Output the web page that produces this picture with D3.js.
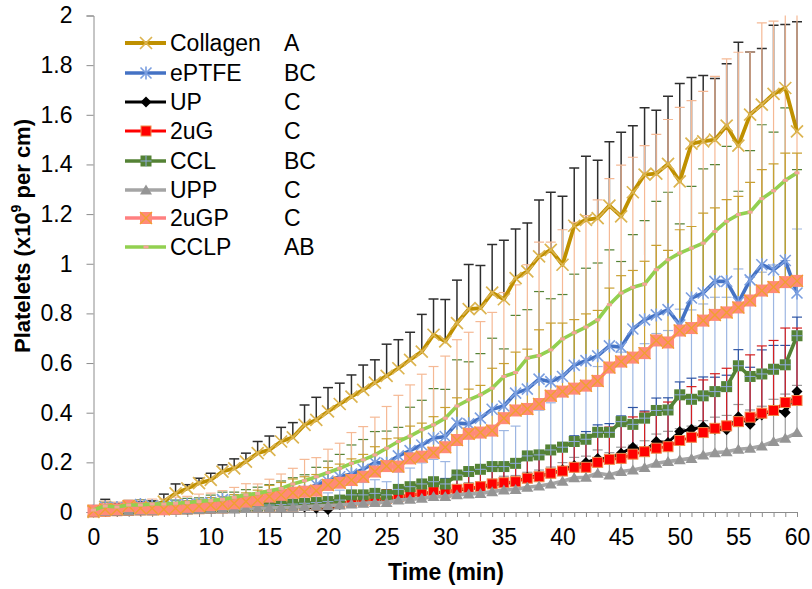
<!DOCTYPE html>
<html>
<head>
<meta charset="utf-8">
<script src="https://cdn.jsdelivr.net/npm/d3@7/dist/d3.min.js"></script>
<style>
  body { margin: 0; background: #fff; }
  svg text { font-family: "Liberation Sans", Arial, sans-serif; fill: #000; }
</style>
</head>
<body>
<svg id="chart" width="812" height="589"></svg>
<script>
// time points (min)
const minutes = d3.range(0, 61);

// mean platelet deposition (x10^9 per cm)
const collagen = [0.0,0.021,0.015,0.021,0.021,0.024,0.042,0.075,0.095,0.116,
  0.129,0.163,0.176,0.203,0.237,0.25,0.284,0.301,0.351,0.371,
  0.405,0.435,0.465,0.492,0.521,0.548,0.579,0.613,0.646,0.714,
  0.687,0.761,0.817,0.821,0.884,0.857,0.942,0.969,1.03,1.056,
  0.996,1.153,1.177,1.184,1.234,1.191,1.288,1.359,1.363,1.402,
  1.332,1.484,1.493,1.5,1.556,1.476,1.601,1.641,1.684,1.708,1.533];
const eptfe = [0.005,0.02,0.018,0.022,0.03,0.025,0.02,0.028,0.03,0.032,
  0.038,0.05,0.045,0.05,0.055,0.06,0.07,0.078,0.085,0.11,
  0.125,0.142,0.153,0.172,0.199,0.196,0.226,0.247,0.27,0.297,
  0.304,0.358,0.355,0.378,0.414,0.427,0.479,0.495,0.535,0.525,
  0.546,0.591,0.61,0.629,0.669,0.664,0.737,0.774,0.794,0.815,
  0.754,0.862,0.882,0.929,0.929,0.844,0.935,0.996,0.976,1.013,0.882];
const up = [0.0,0.005,0.004,0.008,0.007,0.01,0.011,0.012,0.01,0.015,
  0.014,0.018,0.017,0.02,0.021,0.022,0.02,0.025,0.02,0.015,
  0.01,0.03,0.04,0.045,0.05,0.05,0.06,0.065,0.075,0.078,
  0.08,0.088,0.092,0.1,0.108,0.115,0.12,0.14,0.146,0.155,
  0.17,0.187,0.199,0.216,0.216,0.237,0.261,0.247,0.284,0.28,
  0.324,0.333,0.344,0.333,0.331,0.384,0.353,0.391,0.411,0.401,0.485];
const uG2 = [0.0,0.003,0.005,0.006,0.008,0.008,0.01,0.011,0.012,0.013,
  0.015,0.016,0.018,0.019,0.02,0.021,0.022,0.024,0.026,0.028,
  0.03,0.035,0.042,0.046,0.051,0.055,0.062,0.069,0.073,0.082,
  0.078,0.091,0.095,0.102,0.113,0.118,0.122,0.136,0.142,0.156,
  0.165,0.18,0.18,0.2,0.212,0.216,0.233,0.243,0.257,0.263,
  0.288,0.301,0.32,0.337,0.347,0.364,0.382,0.398,0.409,0.441,0.449];
const ccl = [0.003,0.01,0.008,0.012,0.012,0.015,0.014,0.016,0.018,0.017,
  0.02,0.021,0.022,0.023,0.025,0.028,0.03,0.032,0.035,0.038,
  0.042,0.048,0.069,0.069,0.075,0.069,0.091,0.102,0.113,0.122,
  0.113,0.149,0.163,0.172,0.183,0.183,0.196,0.226,0.23,0.25,
  0.261,0.284,0.293,0.321,0.321,0.364,0.353,0.378,0.409,0.411,
  0.472,0.454,0.468,0.485,0.505,0.589,0.546,0.556,0.575,0.593,0.71];
const upp = [0.0,0.002,0.003,0.004,0.005,0.005,0.007,0.008,0.008,0.01,
  0.011,0.012,0.012,0.014,0.015,0.016,0.018,0.019,0.022,0.024,
  0.026,0.028,0.032,0.035,0.038,0.038,0.048,0.051,0.055,0.062,
  0.062,0.069,0.073,0.075,0.082,0.089,0.091,0.1,0.105,0.113,
  0.124,0.138,0.14,0.156,0.149,0.163,0.169,0.179,0.196,0.203,
  0.21,0.216,0.23,0.239,0.243,0.253,0.257,0.266,0.284,0.297,0.32];
const uGP2 = [0.005,0.011,0.011,0.024,0.015,0.015,0.011,0.015,0.021,0.024,
  0.028,0.032,0.035,0.042,0.048,0.062,0.069,0.078,0.082,0.086,
  0.109,0.118,0.129,0.142,0.163,0.185,0.183,0.216,0.223,0.239,
  0.261,0.29,0.315,0.32,0.328,0.378,0.409,0.415,0.435,0.468,
  0.485,0.497,0.509,0.528,0.582,0.606,0.622,0.64,0.691,0.683,
  0.731,0.741,0.771,0.794,0.804,0.824,0.852,0.892,0.906,0.926,0.931];
const cclp = [0.008,0.024,0.02,0.028,0.028,0.032,0.032,0.035,0.038,0.042,
  0.046,0.051,0.059,0.069,0.075,0.086,0.095,0.113,0.126,0.142,
  0.159,0.176,0.196,0.21,0.23,0.257,0.284,0.306,0.331,0.351,
  0.378,0.427,0.452,0.472,0.499,0.546,0.562,0.62,0.63,0.653,
  0.697,0.722,0.745,0.774,0.835,0.882,0.905,0.918,0.976,1.016,
  1.043,1.063,1.083,1.13,1.171,1.198,1.208,1.262,1.294,1.336,1.366];

// upper error bars (SD)
const collagenErr = [0.02,0.03,0.02,0.025,0.02,0.02,0.03,0.038,0.015,0.02,
  0.027,0.027,0.038,0.034,0.047,0.056,0.057,0.059,0.08,0.091,
  0.096,0.084,0.087,0.1,0.092,0.128,0.115,0.111,0.15,0.144,
  0.169,0.173,0.18,0.172,0.194,0.238,0.198,0.195,0.227,0.232,
  0.276,0.233,0.256,0.233,0.257,0.339,0.268,0.269,0.255,0.273,
  0.394,0.266,0.265,0.246,0.25,0.416,0.252,0.226,0.277,0.256,0.442];
const eptfeErr = [0.01,0.02,0.015,0.02,0.02,0.02,0.02,0.02,0.025,0.025,
  0.03,0.03,0.035,0.04,0.045,0.05,0.055,0.06,0.065,0.07,
  0.08,0.09,0.117,0.12,0.125,0.13,0.115,0.175,0.18,0.2,
  0.19,0.255,0.25,0.26,0.286,0.23,0.313,0.32,0.353,0.334,
  0.33,0.367,0.372,0.374,0.387,0.345,0.38,0.4,0.457,0.473,
  0.407,0.45,0.5,0.47,0.544,0.448,0.521,0.564,0.554,0.615,0.497];
const upErr = [0.005,0.005,0.005,0.008,0.008,0.01,0.01,0.01,0.01,0.012,
  0.012,0.014,0.014,0.016,0.016,0.018,0.018,0.02,0.02,0.02,
  0.02,0.025,0.03,0.03,0.035,0.035,0.04,0.045,0.05,0.05,
  0.055,0.06,0.06,0.065,0.07,0.075,0.08,0.09,0.095,0.1,
  0.11,0.12,0.125,0.135,0.14,0.15,0.16,0.16,0.175,0.18,
  0.2,0.206,0.2,0.21,0.22,0.27,0.23,0.262,0.26,0.27,0.3];
const uG2Err = [0.005,0.005,0.006,0.006,0.008,0.008,0.01,0.01,0.01,0.01,
  0.012,0.012,0.014,0.014,0.015,0.015,0.016,0.017,0.018,0.02,
  0.02,0.025,0.028,0.03,0.032,0.035,0.04,0.043,0.045,0.05,
  0.05,0.055,0.06,0.065,0.07,0.075,0.078,0.085,0.09,0.1,
  0.105,0.11,0.115,0.125,0.13,0.14,0.15,0.16,0.17,0.18,
  0.195,0.204,0.212,0.22,0.232,0.24,0.251,0.271,0.282,0.3,0.292];
const cclErr = [0.01,0.012,0.012,0.012,0.012,0.015,0.015,0.015,0.015,0.018,
  0.018,0.02,0.02,0.022,0.022,0.025,0.025,0.028,0.03,0.03,
  0.035,0.04,0.05,0.05,0.055,0.053,0.07,0.075,0.085,0.09,
  0.09,0.12,0.168,0.13,0.14,0.145,0.15,0.17,0.18,0.19,
  0.21,0.22,0.23,0.265,0.26,0.28,0.28,0.3,0.31,0.32,
  0.345,0.36,0.37,0.38,0.36,0.39,0.4,0.41,0.42,0.42,0.43];
const uppErr = [0.004,0.004,0.005,0.005,0.006,0.006,0.007,0.007,0.008,0.008,
  0.009,0.01,0.01,0.011,0.012,0.012,0.013,0.014,0.015,0.016,
  0.017,0.018,0.02,0.022,0.024,0.024,0.03,0.032,0.034,0.038,
  0.038,0.042,0.045,0.046,0.05,0.055,0.056,0.06,0.064,0.068,
  0.075,0.082,0.085,0.094,0.09,0.098,0.1,0.108,0.118,0.122,
  0.126,0.13,0.138,0.143,0.146,0.18,0.154,0.16,0.17,0.178,0.19];
const uGP2Err = [0.01,0.015,0.015,0.02,0.02,0.02,0.02,0.02,0.025,0.025,
  0.03,0.03,0.035,0.035,0.04,0.045,0.05,0.055,0.06,0.065,
  0.07,0.075,0.085,0.09,0.1,0.11,0.115,0.13,0.135,0.145,
  0.16,0.17,0.18,0.19,0.251,0.22,0.235,0.241,0.299,0.293,
  0.276,0.278,0.289,0.284,0.32,0.346,0.351,0.37,0.383,0.371,
  0.406,0.409,0.433,0.431,0.454,0.447,0.476,0.487,0.496,0.52,0.515];
const cclpErr = [0.02,0.02,0.02,0.02,0.02,0.02,0.02,0.025,0.025,0.03,
  0.03,0.035,0.04,0.045,0.038,0.046,0.058,0.063,0.086,0.077,
  0.094,0.101,0.124,0.134,0.152,0.168,0.186,0.206,0.224,0.235,
  0.25,0.267,0.272,0.295,0.305,0.338,0.353,0.376,0.457,0.434,
  0.44,0.445,0.449,0.483,0.508,0.515,0.524,0.558,0.545,0.565,
  0.587,0.594,0.611,0.625,0.654,0.654,0.645,0.708,0.683,0.72,0.75];

const seriesNames = ["Collagen", "ePTFE", "UP", "2uG", "CCL", "UPP", "2uGP", "CCLP"];
const groupLetters = ["A", "BC", "C", "C", "BC", "C", "C", "AB"];
const xTicks = [0, 5, 10, 15, 20, 25, 30, 35, 40, 45, 50, 55, 60];
const yTicks = [0, 0.2, 0.4, 0.6, 0.8, 1, 1.2, 1.4, 1.6, 1.8, 2];

const seriesValues = [collagen, eptfe, up, uG2, ccl, upp, uGP2, cclp];
const seriesErrors = [collagenErr, eptfeErr, upErr, uG2Err, cclErr, uppErr, uGP2Err, cclpErr];

// look of each series
const styles = {
  "Collagen": { line: "#bf9000", w: 3.8, marker: "x", mc: "#dcb450", err: "#2e2e2e" },
  "ePTFE":    { line: "#4472c4", w: 3.6, marker: "star", mc: "#7b9fe0", err: "#548235" },
  "UP":       { line: "#000000", w: 2.8, marker: "diamond", mc: "#000000", err: "#2f55a4" },
  "2uG":      { line: "#ff0000", w: 2.8, marker: "square", mc: "#ff0000", ms: "#f08a4b", err: "#d42020" },
  "CCL":      { line: "#548235", w: 3.6, marker: "plussquare", mc: "#548235", ms: "#8faadc", err: "#9db6e2" },
  "UPP":      { line: "#a5a5a5", w: 3.6, marker: "triangle", mc: "#959595", err: "#9a9a9a" },
  "2uGP":     { line: "#ff8080", w: 3.6, marker: "xsquare", mc: "#ff8a78", ms: "#f0a030", err: "#c9a032" },
  "CCLP":     { line: "#92d050", w: 3.6, marker: "dash", mc: "#f4a49a", err: "#f5b995" }
};
const errOrder = ["UPP", "CCL", "ePTFE", "UP", "2uG", "Collagen", "CCLP", "2uGP"];
const fontSize = 23;

const svg = d3.select("#chart");
const x = d3.scaleLinear().domain([0, 60]).range([93.5, 797]);
const y = d3.scaleLinear().domain([0, 2]).range([512, 15.5]);

svg.append("defs").append("clipPath").attr("id", "plotclip")
  .append("rect").attr("x", 80).attr("y", y(2)).attr("width", 730).attr("height", 520);

// axes
const yAxis = d3.axisLeft(y).tickValues(yTicks).tickSize(7).tickPadding(14).tickFormat(d3.format("~g"));
const gy = svg.append("g").attr("transform", `translate(${x(0)},0)`).call(yAxis);
gy.select(".domain").attr("stroke", "#8c8c8c");
gy.selectAll(".tick line").attr("stroke", "#8c8c8c");
gy.selectAll(".tick text").attr("font-size", fontSize).attr("font-family", "Liberation Sans, Arial, sans-serif");

const gxMinor = svg.append("g").attr("transform", `translate(0,${y(0)})`)
  .call(d3.axisBottom(x).tickValues(minutes).tickSize(5).tickFormat(""));
gxMinor.select(".domain").attr("stroke", "#8c8c8c");
gxMinor.selectAll(".tick line").attr("stroke", "#8c8c8c");
const gx = svg.append("g").attr("transform", `translate(0,${y(0)})`)
  .call(d3.axisBottom(x).tickValues(xTicks).tickSize(0).tickPadding(17).tickFormat(d3.format("d")));
gx.select(".domain").remove();
gx.selectAll(".tick text").attr("font-size", fontSize).attr("font-family", "Liberation Sans, Arial, sans-serif");

// axis titles
svg.append("text").attr("x", 446).attr("y", 580).attr("text-anchor", "middle")
  .attr("font-size", fontSize).attr("font-weight", "bold").text("Time (min)");
const yt = svg.append("text").attr("transform", "translate(30,236) rotate(-90)")
  .attr("text-anchor", "middle").attr("font-size", fontSize - 1).attr("font-weight", "bold");
yt.append("tspan").text("Platelets (x10");
yt.append("tspan").attr("font-size", 14).attr("dy", -9).text("9");
yt.append("tspan").attr("dy", 9).text(" per cm)");

const plot = svg.append("g").attr("clip-path", "url(#plotclip)");

// error bars (plus direction only)
const capHalf = 5;
errOrder.forEach(name => {
  const i = seriesNames.indexOf(name);
  const st = styles[name];
  const pts = minutes.map((m, k) => ({ m: m, v: seriesValues[i][k], e: seriesErrors[i][k] }));
  const g = plot.append("g").attr("stroke", st.err).attr("stroke-width", name === "Collagen" ? 1.5 : 1.2);
  g.selectAll("line.bar").data(pts).enter().append("line").attr("class", "bar")
    .attr("x1", d => x(d.m)).attr("x2", d => x(d.m))
    .attr("y1", d => y(d.v)).attr("y2", d => y(d.v + d.e));
  g.selectAll("line.cap").data(pts).enter().append("line").attr("class", "cap")
    .attr("x1", d => x(d.m) - capHalf).attr("x2", d => x(d.m) + capHalf)
    .attr("y1", d => y(d.v + d.e)).attr("y2", d => y(d.v + d.e));
});

// marker shapes
function drawMarker(g, type, st) {
  if (type === "x") {
    g.append("path").attr("d", "M-6,-6L6,6M-6,6L6,-6")
      .attr("stroke", st.mc).attr("stroke-width", 1.7).attr("fill", "none");
  } else if (type === "star") {
    g.append("path").attr("d", "M-5.5,-5.5L5.5,5.5M-5.5,5.5L5.5,-5.5M0,-6.5L0,6.5")
      .attr("stroke", st.mc).attr("stroke-width", 1.6).attr("fill", "none");
  } else if (type === "diamond") {
    g.append("path").attr("d", "M0,-5.5L5.5,0L0,5.5L-5.5,0Z").attr("fill", st.mc);
  } else if (type === "square") {
    g.append("rect").attr("x", -5).attr("y", -5).attr("width", 10).attr("height", 10)
      .attr("fill", st.mc).attr("stroke", st.ms).attr("stroke-width", 1);
  } else if (type === "plussquare") {
    g.append("rect").attr("x", -5.5).attr("y", -5.5).attr("width", 11).attr("height", 11).attr("fill", st.mc);
    g.append("path").attr("d", "M-5.5,0L5.5,0M0,-5.5L0,5.5").attr("stroke", st.ms).attr("stroke-width", 1);
  } else if (type === "triangle") {
    g.append("path").attr("d", "M0,-5.5L6,4.5L-6,4.5Z").attr("fill", st.mc);
  } else if (type === "xsquare") {
    g.append("rect").attr("x", -6).attr("y", -6).attr("width", 12).attr("height", 12).attr("fill", st.mc);
    g.append("path").attr("d", "M-6,-6L6,6M-6,6L6,-6")
      .attr("stroke", st.ms).attr("stroke-width", 1.4).attr("fill", "none");
  } else if (type === "dash") {
    g.append("rect").attr("x", -2.5).attr("y", -1.5).attr("width", 5).attr("height", 3).attr("fill", st.mc);
  }
}

// lines and markers
const lineGen = d3.line().x(d => x(d.m)).y(d => y(d.v));
seriesNames.forEach((name, i) => {
  const st = styles[name];
  const pts = minutes.map((m, k) => ({ m: m, v: seriesValues[i][k] }));
  plot.append("path").datum(pts).attr("d", lineGen)
    .attr("fill", "none").attr("stroke", st.line).attr("stroke-width", st.w)
    .attr("stroke-linejoin", "round");
  const mg = plot.append("g");
  pts.forEach(d => {
    const g = mg.append("g").attr("transform", `translate(${x(d.m)},${y(d.v)})`);
    drawMarker(g, st.marker, st);
  });
});

// legend
const legendRowY = [43, 73, 102, 131, 161, 190, 218, 247];
const lg = svg.append("g");
seriesNames.forEach((name, i) => {
  const st = styles[name];
  const ly = legendRowY[i];
  lg.append("line").attr("x1", 125).attr("x2", 166).attr("y1", ly).attr("y2", ly)
    .attr("stroke", st.line).attr("stroke-width", st.w);
  drawMarker(lg.append("g").attr("transform", `translate(146,${ly})`), st.marker, st);
  lg.append("text").attr("x", 170).attr("y", ly).attr("dy", "0.36em").attr("font-size", fontSize).text(name);
  lg.append("text").attr("x", 284).attr("y", ly).attr("dy", "0.36em").attr("font-size", fontSize).text(groupLetters[i]);
});
</script>
</body>
</html>
